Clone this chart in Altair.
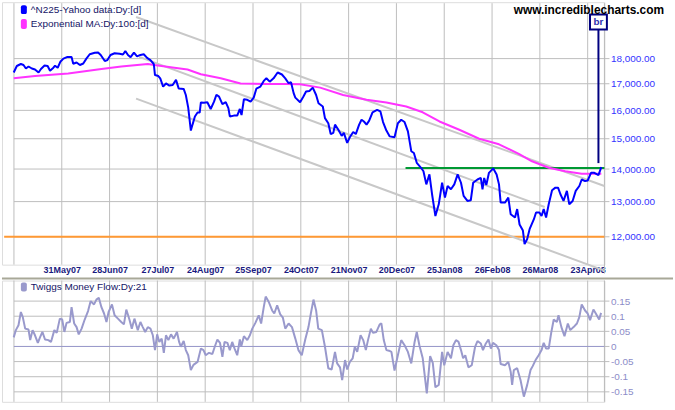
import altair as alt
import pandas as pd

# ---------------- data (x = trading-bar index) ----------------
bar_ticks = [5, 25, 45, 65, 85, 105, 125, 145, 165, 185, 205, 225, 245]
date_labels = ["", "31May07", "28Jun07", "27Jul07", "24Aug07", "25Sep07", "24Oct07",
               "21Nov07", "20Dec07", "25Jan08", "26Feb08", "26Mar08", "23Apr08"]
price_ticks = [12000, 13000, 14000, 15000, 16000, 17000, 18000]
tmf_ticks = [-0.15, -0.1, -0.05, 0, 0.05, 0.1, 0.15]

price_x = [4.9, 6.2, 7.9, 9.0, 10.0, 11.1, 12.5, 13.8, 15.3, 16.3, 17.8, 19.1, 20.1, 21.5, 22.2,
           23.3, 24.4, 25.7, 27.4, 29.1, 29.8, 31.2, 32.6, 34.0, 35.3, 36.7, 38.8, 40.2, 41.3,
           43.0, 44.1, 45.4, 47.1, 49.2, 50.6, 51.6, 52.7, 53.8, 55.2, 56.5, 57.9, 59.3, 60.7,
           62.1, 63.5, 64.0, 65.4, 66.2, 67.4, 68.6, 70.0, 71.4, 72.8, 73.9, 76.0, 76.9, 77.9,
           79.0, 79.7, 80.7, 81.8, 82.7, 83.2, 84.5, 85.9, 87.3, 88.7, 89.7, 90.8, 92.2, 93.6,
           94.7, 95.3, 97.0, 98.4, 99.5, 100.2, 101.2, 102.6, 104.0, 105.3, 106.4, 108.1, 109.5,
           110.6, 112.0, 113.6, 115.3, 117.1, 118.5, 119.9, 120.9, 122.0, 122.7, 124.7,
           126.1, 127.2, 128.6, 130.0, 131.4, 132.4, 134.2, 135.1, 136.5, 137.5, 138.6, 139.3,
           140.7, 142.1, 143.0, 144.4, 145.5, 146.9, 148.0, 149.4, 150.4, 151.4, 152.5, 153.6,
           155.0, 156.9, 158.3, 159.4, 160.8, 162.2, 164.2, 165.6, 167.0, 168.4, 169.8, 171.2,
           172.3, 173.5, 175.3, 176.3, 177.5, 178.8, 179.9, 181.3, 182.7, 184.1, 185.3, 186.4,
           187.8, 189.2, 190.6, 192.0, 193.1, 194.7, 196.1, 197.1, 198.9, 200.3, 201.0, 201.7,
           202.6, 203.7, 205.5, 206.9, 207.9, 208.6, 210.4, 211.8, 212.8, 214.6, 215.5, 216.5,
           217.9, 218.6, 219.7, 220.7, 222.5, 223.4, 224.8, 225.7, 226.6, 227.6, 228.7, 230.1,
           231.5, 232.6, 233.6, 234.9, 236.3, 237.3, 238.7, 240.0, 241.5, 242.5, 243.9, 245.0,
           246.4, 247.8, 249.5, 250.7]
price_y = [17440, 17700, 17780, 17740, 17600, 17680, 17600, 17560, 17440, 17580, 17720, 17700,
           17510, 17630, 17710, 17630, 17870, 18000, 18070, 18070, 17790, 17840, 17740, 17800,
           18000, 18180, 18240, 18250, 18150, 17900, 17940, 18150, 18220, 18200, 18170, 18310,
           18150, 18060, 18250, 18090, 18150, 18180, 18030, 17940, 17780, 17340, 17300, 17210,
           16890, 17010, 16930, 16950, 17150, 16820, 16800, 16570, 16100, 15280, 15490, 15780,
           15920, 15920, 16290, 16280, 16300, 16050, 16320, 16580, 16510, 16230, 16300, 16080,
           15780, 15810, 15810, 16050, 15830, 16410, 16390, 16320, 16470, 16810, 16890, 17110,
           17210, 17080, 17210, 17440, 17360, 17210, 17020, 17060, 16640, 16470, 16300,
           16510, 16700, 16720, 16850, 16570, 16260, 16140, 15720, 15540, 15160, 15200, 15490,
           15310, 15100, 15200, 14860, 15050, 15230, 15160, 15490, 15660, 15600, 15490, 15630,
           15930, 16020, 15960, 15580, 15280, 15080, 15050, 15540, 15660, 15580, 15250, 14580,
           14520, 14200, 14040, 13930, 13520, 13830, 13220, 12580, 12920, 13570, 13120, 13470,
           13370, 13520, 13830, 13570, 13170, 13020, 13040, 13570, 13670, 13720, 13370, 13720,
           13500, 13880, 14020, 13830, 13520, 12970, 12970, 13120, 12630, 12540, 12780, 12340,
           12170, 11800, 11940, 12210, 12490, 12680, 12680, 12580, 12780, 12540, 12920, 13340,
           13420, 13420, 13220, 13020, 13320, 12920, 13020, 13320, 13470, 13670, 13620, 13640,
           13880, 13880, 13810, 14060]

ema_x = [4.9, 13.8, 27.7, 41.6, 49.9, 61.0, 63.7, 72.1, 77.6, 83.2, 91.5, 99.8, 110.9, 119.2,
         124.7, 133.1, 142.7, 152.5, 160.8, 169.1, 176.0, 183.0, 191.3, 199.6, 207.9, 216.2,
         221.7, 228.7, 235.6, 242.5, 250.7]
ema_y = [17210, 17300, 17400, 17580, 17680, 17780, 17740, 17630, 17560, 17370, 17210, 17010,
         16990, 16990, 16980, 16850, 16570, 16390, 16290, 16140, 15930, 15600, 15310, 15000,
         14810, 14490, 14250, 14040, 13930, 13850, 13850]

tmf_x = [4.9, 5.8, 6.9, 7.9, 8.7, 9.7, 11.1, 11.8, 12.8, 13.8, 15.0, 15.9, 16.9, 18.0, 19.4,
         20.5, 21.9, 22.9, 24.2, 25.2, 26.1, 27.0, 28.4, 29.1, 30.2, 31.2, 32.1, 33.3, 34.6,
         36.0, 37.1, 38.5, 39.5, 40.5, 41.6, 42.7, 43.7, 44.6, 46.0, 47.1, 48.5, 49.9, 51.0,
         52.0, 53.3, 54.3, 55.4, 56.8, 57.9, 58.9, 59.9, 61.0, 62.1, 63.1, 64.0, 64.9, 65.8,
         66.8, 67.7, 68.6, 69.6, 70.7, 71.8, 73.2, 74.1, 74.8, 76.0, 76.9, 77.9, 79.0, 80.1,
         81.8, 83.2, 84.3, 85.2, 86.6, 88.0, 89.0, 90.1, 91.2, 92.2, 93.1, 94.3, 95.3, 96.3,
         97.3, 98.4, 99.5, 100.1, 101.2, 102.6, 103.7, 104.7, 106.0, 107.4, 108.4, 109.5,
         110.3, 111.6, 113.0, 113.9, 115.1, 116.4, 117.5, 118.5, 119.9, 121.3, 122.7, 124.0,
         125.4, 126.8, 128.2, 129.2, 130.3, 131.4, 132.3, 133.8, 135.1, 136.5, 137.9, 139.3,
         140.2, 141.4, 142.3, 143.5, 144.4, 145.5, 146.7, 147.6, 148.6, 150.0, 151.1, 152.2,
         153.1, 154.3, 155.2, 156.6, 158.0, 158.7, 159.7, 160.8, 161.9, 162.9, 164.2, 165.6,
         167.0, 168.4, 169.8, 171.2, 172.6, 173.5, 174.6, 176.0, 177.7, 179.1, 180.2, 181.3,
         182.7, 184.1, 185.0, 186.4, 187.8, 188.8, 189.9, 191.0, 192.0, 192.9, 193.8, 195.1,
         196.5, 197.9, 198.9, 200.3, 201.2, 202.4, 203.5, 204.5, 205.4, 206.8, 207.9, 208.6,
         210.4, 211.8, 212.8, 213.4, 214.1, 215.5, 216.9, 218.3, 219.7, 221.1, 222.0, 223.2,
         224.5, 225.7, 226.6, 227.6, 228.7, 229.8, 230.8, 232.1, 232.8, 234.0, 235.3, 236.7,
         237.7, 239.1, 240.5, 241.5, 242.5, 243.9, 245.0, 246.0, 247.4, 248.4, 249.8, 250.6]
tmf_y = [0.030, 0.054, 0.070, 0.114, 0.097, 0.059, 0.056, 0.021, 0.054, 0.037, 0.012, 0.030,
         0.048, 0.023, 0.021, 0.015, 0.054, 0.045, 0.092, 0.089, 0.048, 0.078, 0.081, 0.130,
         0.076, 0.064, 0.040, 0.059, 0.089, 0.117, 0.150, 0.139, 0.155, 0.161, 0.130, 0.109,
         0.081, 0.114, 0.139, 0.103, 0.092, 0.081, 0.073, 0.122, 0.089, 0.059, 0.092, 0.054,
         0.081, 0.064, 0.048, 0.064, 0.059, 0.037, -0.012, 0.040, 0.015, 0.026, -0.021, 0.037,
         0.021, 0.040, 0.026, 0.048, 0.015, -0.001, 0.018, -0.012, -0.029, -0.078, -0.061,
         -0.051, -0.007, -0.012, -0.029, -0.021, -0.025, -0.001, 0.023, 0.012, -0.034, 0.015,
         0.012, -0.012, 0.015, -0.007, -0.029, 0.023, 0.001, 0.034, 0.021, 0.037, 0.059, 0.078,
         0.103, 0.076, 0.130, 0.165, 0.147, 0.119, 0.109, 0.136, 0.106, 0.095, 0.059, 0.076,
         0.064, 0.026, -0.012, -0.029, 0.021, 0.064, 0.109, 0.155, 0.119, 0.059, 0.054, -0.001,
         -0.072, -0.076, -0.018, -0.056, -0.069, -0.111, -0.045, -0.076, -0.051, -0.039,
         -0.001, -0.018, 0.037, 0.021, -0.012, 0.021, 0.059, 0.045, 0.048, 0.073, 0.076, 0.021,
         -0.012, -0.014, -0.018, -0.080, -0.029, 0.021, 0.004, -0.018, -0.056, 0.015, 0.048,
         0.004, -0.039, -0.155, -0.032, -0.054, -0.135, -0.127, -0.018, -0.062, -0.018, -0.039,
         0.004, 0.021, 0.015, -0.012, -0.039, -0.029, -0.069, -0.062, -0.001, 0.018, 0.010,
         -0.012, 0.010, 0.023, -0.007, 0.012, 0.004, -0.012, -0.058, -0.062, -0.051, -0.084,
         -0.127, -0.078, -0.072, -0.111, -0.166, -0.127, -0.078, -0.065, -0.045, -0.029, -0.012,
         0.012, -0.007, -0.007, 0.048, 0.089, 0.081, 0.103, 0.064, 0.034, 0.076, 0.054, 0.064,
         0.076, 0.097, 0.139, 0.119, 0.109, 0.087, 0.122, 0.109, 0.089, 0.111]

# trend channel (start, end) and horizontal levels
chan_name = ["upper", "upper", "middle", "middle", "lower", "lower"]
chan_x = [56.1, 252.0, 57.4, 227.0, 56.1, 252.0]
chan_y = [19785, 13470, 18073, 12840, 16435, 11112]
resistance = {"x": [168.8, 252.0], "y": [14030, 14030]}
support = {"x": [0.9, 252.0], "y": [12000, 12000]}
marker_x = 249.5
marker_low, marker_high = 14190, 19210

# ---------------- styling ----------------
W = 606
H_MAIN = 264
H_LOW = 122
GRID = "#bdbdbd"
FONT = "Liberation Sans"
X_MIN, X_MAX, X_TICKEND = 0, 252, 254.1
P_MIN, P_MAX, P_GRIDTOP = 11263, 20466, 20420
T_MIN, T_MAX = -0.183, 0.218

label_expr = "[" + ",".join("'%s'" % s for s in date_labels) + "][round((datum.value-5)/20)]"
xs = alt.Scale(domain=[X_MIN, X_MAX], nice=False, zero=False)
ys = alt.Scale(type="log", domain=[P_MIN, P_MAX], nice=False, zero=False)

x_axis = alt.Axis(values=bar_ticks, labelExpr=label_expr, grid=False,
                  ticks=False, domain=False, labelFont=FONT, labelFontSize=9,
                  labelFontWeight="bold", labelColor="#1a1a80", labelPadding=1,
                  labelAngle=0, labelOverlap=False, title=None)
y_axis = alt.Axis(orient="right", values=price_ticks, format=",.2f", grid=False,
                  ticks=False, domain=False, labelFont=FONT, labelFontSize=10,
                  labelColor="#3333ff", labelPadding=6, labelOverlap=False, title=None)

X = alt.X("x:Q", scale=xs, axis=x_axis)
Y = alt.Y("y:Q", scale=ys, axis=y_axis)


def grid_table(xticks, yticks, x0, x1, y0, y1):
    rows = []
    for t in xticks:
        rows += [{"x": t, "y": y0, "g": "v%s" % t}, {"x": t, "y": y1, "g": "v%s" % t}]
    for t in yticks:
        rows += [{"x": x0, "y": t, "g": "h%s" % t}, {"x": x1, "y": t, "g": "h%s" % t}]
    return pd.DataFrame(rows)


def lines(df, color, width=2, **enc):
    return alt.Chart(df).mark_line(color=color, strokeWidth=width, strokeJoin="bevel").encode(
        x=X, y=Y, **enc)


grid_main = lines(grid_table(bar_ticks, price_ticks, bar_ticks[0], X_TICKEND, P_MIN, P_GRIDTOP),
                  GRID, 1, detail="g:N")
frame_main = lines(pd.DataFrame({"x": [X_MAX, X_MAX], "y": [11037, P_GRIDTOP]}), "#b8b8b8", 1)
price = lines(pd.DataFrame({"x": price_x, "y": price_y}), "#0000ff")
orange = lines(pd.DataFrame(support), "#ff9933")
green = lines(pd.DataFrame(resistance), "#009933")
channel = lines(pd.DataFrame({"x": chan_x, "y": chan_y, "name": chan_name}), "#c8c8c8",
                detail="name:N")
ema = lines(pd.DataFrame({"x": ema_x, "y": ema_y}), "#ff33ff")
marker_line = lines(pd.DataFrame({"x": [marker_x, marker_x], "y": [marker_low, marker_high]}),
                    "#000080")
box = alt.Chart(pd.DataFrame({"x": [marker_x], "y": [marker_high]})).mark_rect(
    fill="white", stroke="#000080", strokeWidth=2, width=17, height=15, yOffset=-8).encode(x=X, y=Y)
box_text = alt.Chart(pd.DataFrame({"x": [marker_x], "y": [marker_high], "t": ["br"]})).mark_text(
    font=FONT, fontSize=10, fontWeight="bold", color="#3030b0", dy=-8, baseline="middle").encode(
    x=X, y=Y, text="t:N")


def swatch(color, y0, y1):
    return alt.Chart(pd.DataFrame({"a": [0]})).mark_rect(color=color, cornerRadius=2).encode(
        x=alt.value(19), x2=alt.value(25), y=alt.value(y0), y2=alt.value(y1))


def label(text, x, y, size=10, color="#141466", weight="normal", align="left"):
    return alt.Chart(pd.DataFrame({"t": [text]})).mark_text(
        font=FONT, fontSize=size, fontWeight=weight, color=color, align=align,
        baseline="middle").encode(x=alt.value(x), y=alt.value(y), text="t:N")


main = alt.layer(
    grid_main, frame_main, orange, channel, green, ema, price, marker_line, box, box_text,
    swatch("#0000ff", 3, 12), label("^N225-Yahoo data:Dy:[d]", 29, 8),
    swatch("#ff33ff", 17, 27), label("Exponential MA:Dy:100:[d]", 29, 22),
    label("www.incrediblecharts.com", 666, 8, size=12, color="black", weight="bold", align="right"),
).properties(width=W, height=H_MAIN)

# ---------------- lower panel ----------------
ts = alt.Scale(domain=[T_MIN, T_MAX], nice=False, zero=False)
x_axis_low = alt.Axis(values=bar_ticks, grid=False, ticks=False, labels=False,
                      domain=False, title=None)
y_axis_low = alt.Axis(orient="right", values=tmf_ticks, labelExpr="datum.value + ''", grid=False,
                      ticks=False, domain=False, labelFont=FONT, labelFontSize=10,
                      labelColor="#8c8cc8", labelPadding=6, labelOverlap=False, title=None)
XL = alt.X("x:Q", scale=xs, axis=x_axis_low)
YL = alt.Y("y:Q", scale=ts, axis=y_axis_low)


def low_lines(df, color, width=2, **enc):
    return alt.Chart(df).mark_line(color=color, strokeWidth=width, strokeJoin="bevel").encode(
        x=XL, y=YL, **enc)


grid_low = low_lines(grid_table(bar_ticks, tmf_ticks, bar_ticks[0], X_TICKEND, T_MIN, T_MAX),
                     GRID, 1, detail="g:N")
frame_low = low_lines(pd.DataFrame({"x": [X_MAX, X_MAX], "y": [T_MIN, T_MAX]}), "#b8b8b8", 1)
zero = low_lines(pd.DataFrame({"x": [bar_ticks[0], X_MAX], "y": [0, 0]}), "#9999cc", 1)
tmf_line = low_lines(pd.DataFrame({"x": tmf_x, "y": tmf_y}), "#9999cc")
divider = alt.Chart(pd.DataFrame({"a": [0]})).mark_rule(color="#a8a898", strokeWidth=2).encode(
    x=alt.value(0), x2=alt.value(675), y=alt.value(-2))

lower = alt.layer(
    grid_low, frame_low, zero, tmf_line, divider,
    swatch("#9999cc", 2, 11),
    label("Twiggs Money Flow:Dy:21", 29, 7),
).properties(width=W, height=H_LOW)

chart = alt.vconcat(main, lower, spacing=16, bounds="flush").properties(
    padding={"left": 0, "top": 0, "right": 0, "bottom": 0}
).configure_view(strokeWidth=0).configure(background="white")

chart.save("out.html", embed_options={"renderer": "svg", "actions": False})
